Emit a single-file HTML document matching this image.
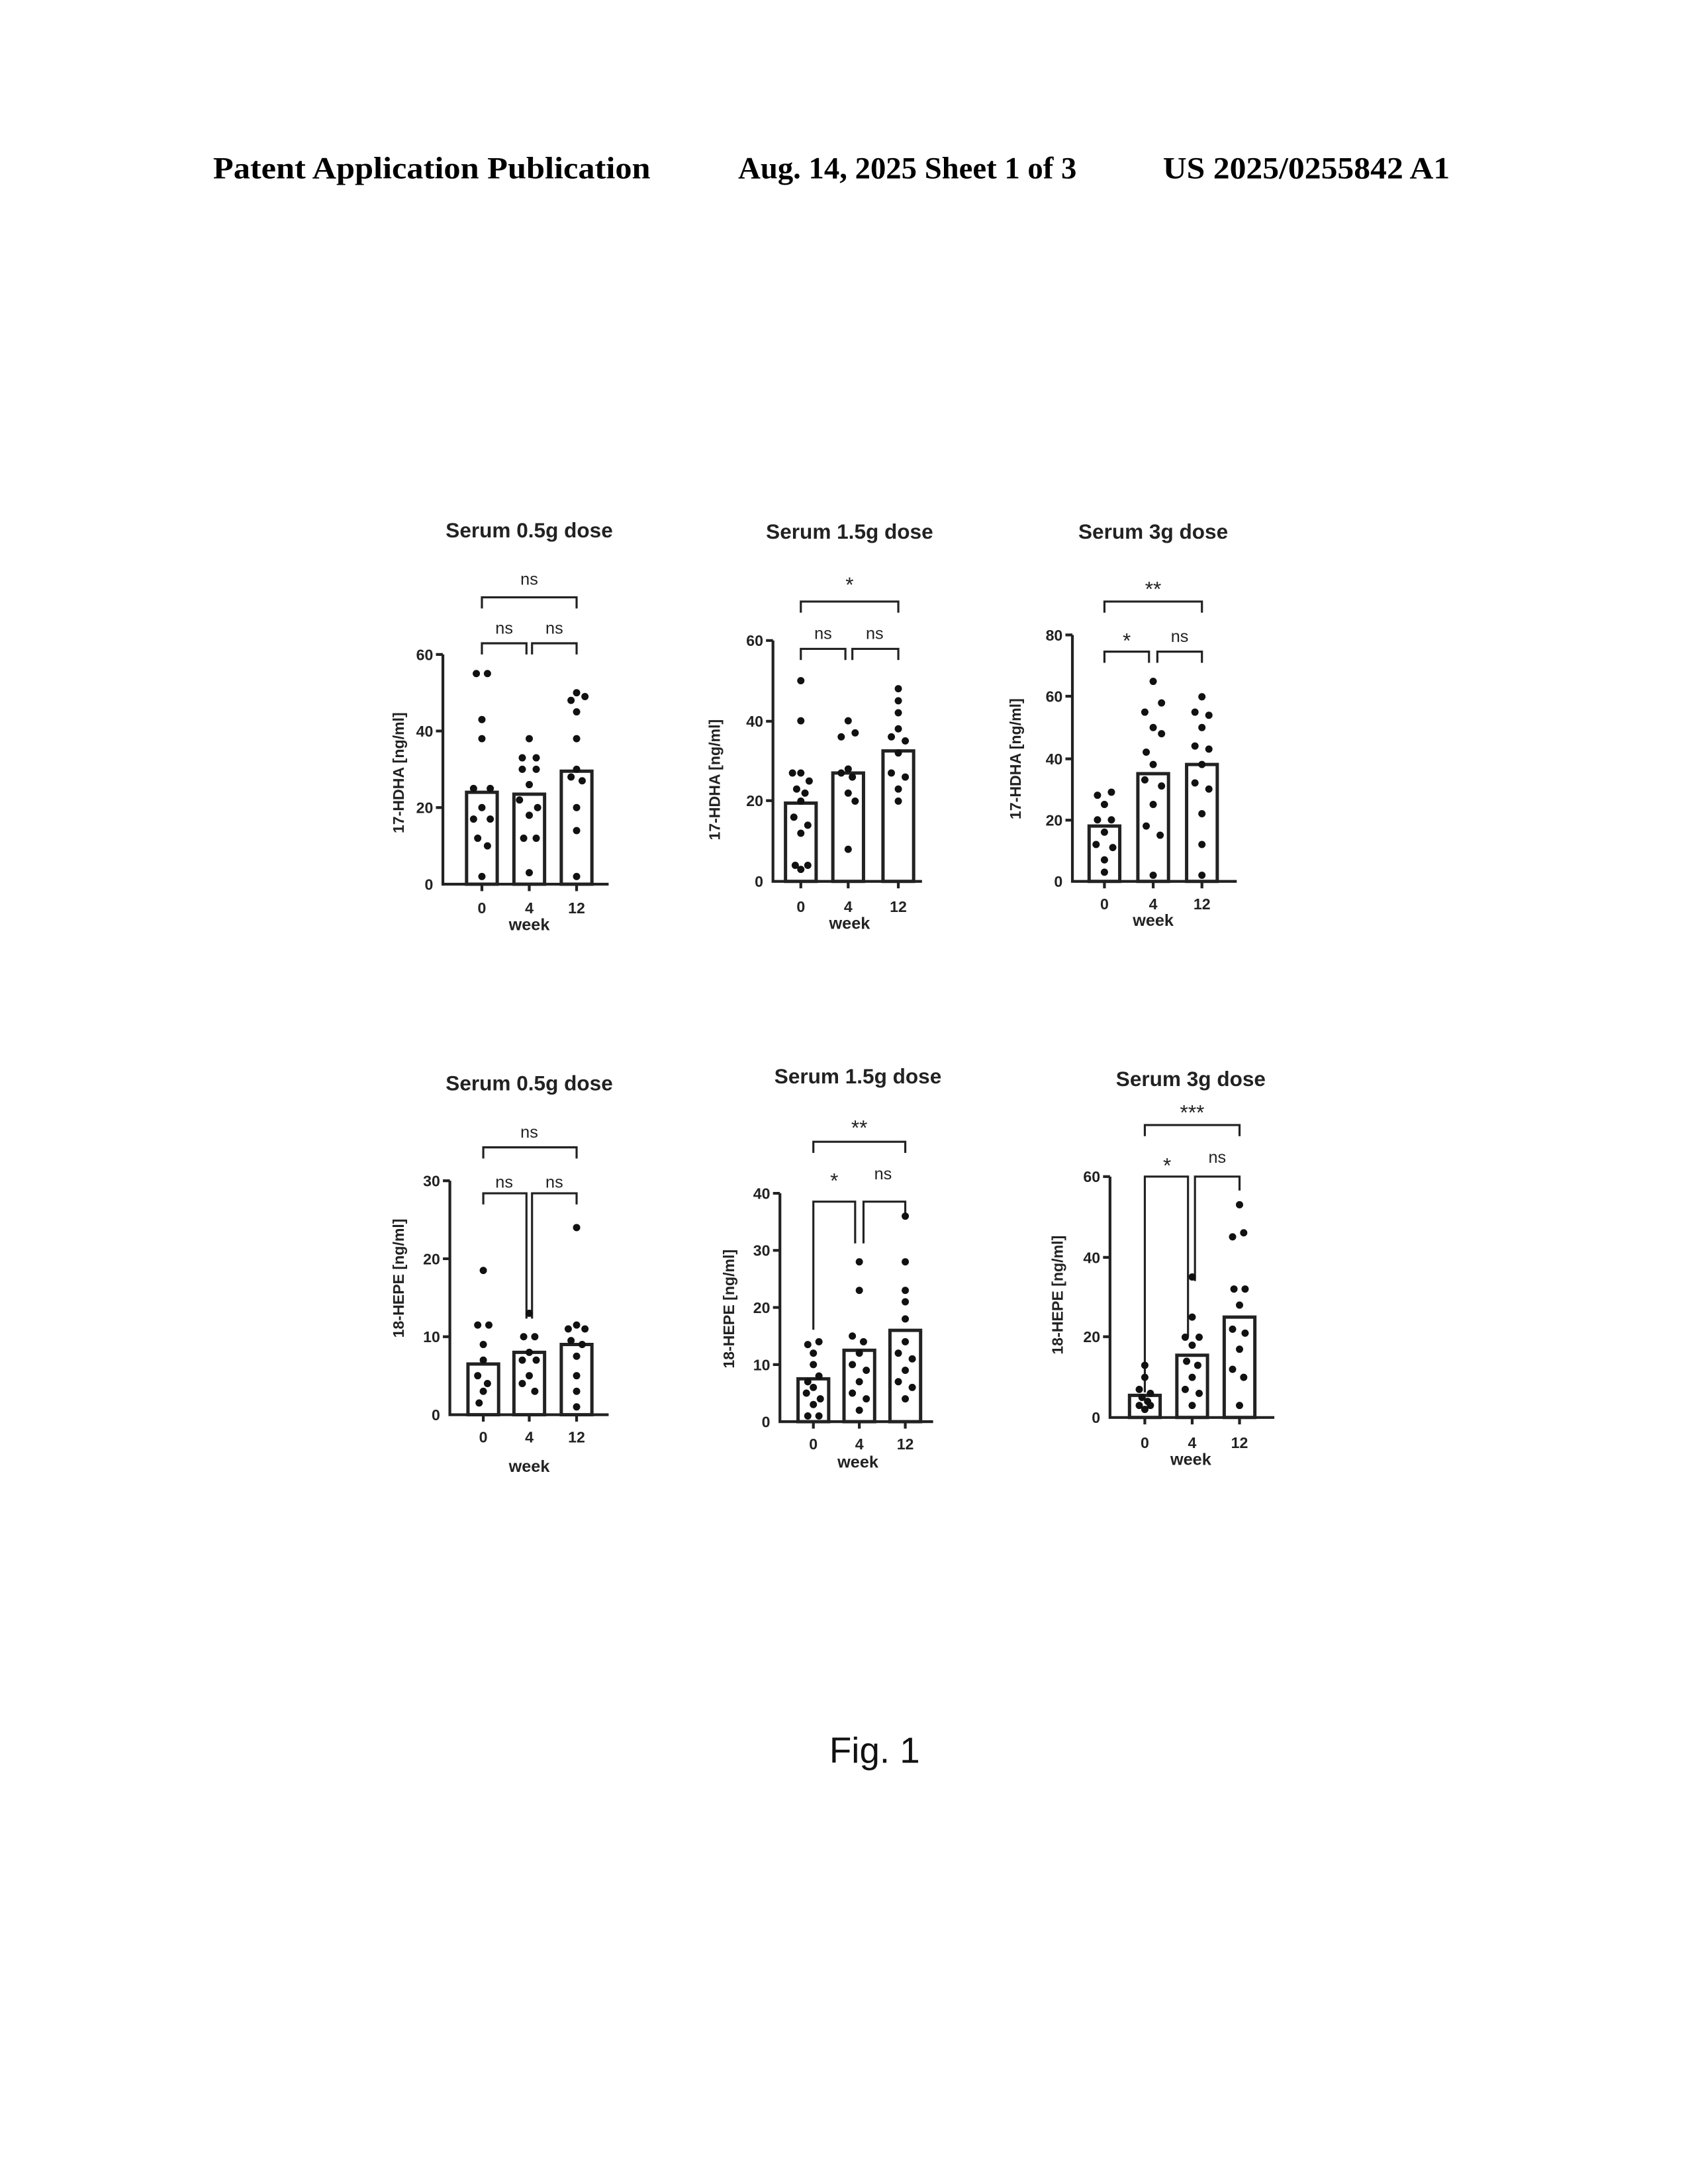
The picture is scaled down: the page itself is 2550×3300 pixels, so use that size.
<!DOCTYPE html>
<html><head><meta charset="utf-8"><style>
html,body{margin:0;padding:0;background:#fff}
svg{display:block}
text{font-family:"Liberation Sans",sans-serif;fill:#222}
.h{font-family:"Liberation Serif",serif;font-weight:bold;font-size:22px;fill:#000}
.t{font-weight:bold;font-size:15px;text-anchor:middle}
.n{font-size:11px;font-weight:bold;text-anchor:middle}
.y{font-size:11px;font-weight:bold;text-anchor:end}
.s{font-size:12px;text-anchor:middle}
.ax{stroke:#222;stroke-width:2;fill:none}
.dt{stroke:#111;stroke-width:11;stroke-linecap:round;fill:none;vector-effect:non-scaling-stroke}
.br{fill:none;stroke:#222;stroke-width:5;vector-effect:non-scaling-stroke}
</style></head><body>
<svg width="2550" height="3300" viewBox="0 0 1212 1568.5" xmlns="http://www.w3.org/2000/svg">
<text class="h" x="153" y="128" textLength="314" lengthAdjust="spacingAndGlyphs">Patent Application Publication</text>
<text class="h" x="530" y="128" textLength="243" lengthAdjust="spacingAndGlyphs">Aug. 14, 2025  Sheet 1 of 3</text>
<text class="h" x="835" y="128" textLength="206" lengthAdjust="spacingAndGlyphs">US 2025/0255842 A1</text>

<!-- Chart 1 -->
<text class="t" x="380" y="386">Serum 0.5g dose</text>
<path class="ax" d="M318 470V635H437M313 470H318M313 525H318M313 580H318M346 635v5M380 635v5M414 635v5"/>
<text class="y" x="311" y="474">60</text><text class="y" x="311" y="529">40</text><text class="y" x="311" y="584">20</text><text class="y" x="311" y="639">0</text>
<text class="n" x="346" y="656">0</text><text class="n" x="380" y="656">4</text><text class="n" x="414" y="656">12</text>
<text class="n" x="380" y="668" style="font-size:12px">week</text>
<text class="n" x="290" y="555" transform="rotate(-90 290 555)">17-HDHA [ng/ml]</text>
<path class="ax" d="M346 470v-8h32v8M382 470v-8h32v8M346 437v-8h68v8" style="stroke-width:1.5"/>
<text class="s" x="362" y="455">ns</text><text class="s" x="398" y="455">ns</text><text class="s" x="380" y="420">ns</text>
<g transform="translate(0,635) scale(1,-2.75)">
<rect class="br" x="335" y="0" width="22" height="24"/><rect class="br" x="369" y="0" width="22" height="23.5"/><rect class="br" x="403" y="0" width="22" height="29.5"/>
<path class="dt" d="M342 55h0M350 55h0M346 43h0M346 38h0M340 25h0M352 25h0M346 20h0M340 17h0M352 17h0M343 12h0M350 10h0M346 2h0M380 38h0M375 33h0M385 33h0M375 30h0M385 30h0M380 26h0M373 22h0M386 20h0M380 18h0M376 12h0M385 12h0M380 3h0M414 50h0M410 48h0M420 49h0M414 45h0M414 38h0M414 30h0M410 28h0M418 27h0M414 20h0M414 14h0M414 2h0"/>
</g>

<!-- Chart 2 -->
<text class="t" x="610" y="387">Serum 1.5g dose</text>
<path class="ax" d="M555 460V633H662M550 460H555M550 518H555M550 575H555M575 633v5M609 633v5M645 633v5"/>
<text class="y" x="548" y="464">60</text><text class="y" x="548" y="522">40</text><text class="y" x="548" y="579">20</text><text class="y" x="548" y="637">0</text>
<text class="n" x="575" y="655">0</text><text class="n" x="609" y="655">4</text><text class="n" x="645" y="655">12</text>
<text class="n" x="610" y="667" style="font-size:12px">week</text>
<text class="n" x="517" y="560" transform="rotate(-90 517 560)">17-HDHA [ng/ml]</text>
<path class="ax" d="M575 474v-8h32v8M612 474v-8h33v8M575 440v-8h70v8" style="stroke-width:1.5"/>
<text class="s" x="591" y="459">ns</text><text class="s" x="628" y="459">ns</text><text class="s" x="610" y="425" style="font-size:15px">*</text>
<g transform="translate(0,633) scale(1,-2.883)">
<rect class="br" x="564" y="0" width="22" height="19.5"/><rect class="br" x="598" y="0" width="22" height="27"/><rect class="br" x="634" y="0" width="22" height="32.5"/>
<path class="dt" d="M575 50h0M575 40h0M569 27h0M575 27h0M581 25h0M572 23h0M578 22h0M575 20h0M570 16h0M580 14h0M575 12h0M571 4h0M580 4h0M575 3h0M609 40h0M604 36h0M614 37h0M609 28h0M604 27h0M612 26h0M609 22h0M614 20h0M609 8h0M645 48h0M645 45h0M645 42h0M645 38h0M640 36h0M650 35h0M645 32h0M640 27h0M650 26h0M645 23h0M645 20h0"/>
</g>

<!-- Chart 3 -->
<text class="t" x="828" y="387">Serum 3g dose</text>
<path class="ax" d="M770 456V633H888M765 456H770M765 500H770M765 545H770M765 589H770M793 633v5M828 633v5M863 633v5"/>
<text class="y" x="763" y="460">80</text><text class="y" x="763" y="504">60</text><text class="y" x="763" y="549">40</text><text class="y" x="763" y="593">20</text><text class="y" x="763" y="637">0</text>
<text class="n" x="793" y="653">0</text><text class="n" x="828" y="653">4</text><text class="n" x="863" y="653">12</text>
<text class="n" x="828" y="665" style="font-size:12px">week</text>
<text class="n" x="733" y="545" transform="rotate(-90 733 545)">17-HDHA [ng/ml]</text>
<path class="ax" d="M793 476v-8h32v8M831 476v-8h32v8M793 440v-8h70v8" style="stroke-width:1.5"/>
<text class="s" x="809" y="465" style="font-size:15px">*</text><text class="s" x="847" y="461">ns</text><text class="s" x="828" y="428" style="font-size:15px">**</text>
<g transform="translate(0,633) scale(1,-2.21)">
<rect class="br" x="782" y="0" width="22" height="18"/><rect class="br" x="817" y="0" width="22" height="35"/><rect class="br" x="852" y="0" width="22" height="38"/>
<path class="dt" d="M788 28h0M798 29h0M793 25h0M788 20h0M798 20h0M793 16h0M787 12h0M799 11h0M793 7h0M793 3h0M828 65h0M822 55h0M834 58h0M828 50h0M834 48h0M823 42h0M828 38h0M822 33h0M834 31h0M828 25h0M823 18h0M833 15h0M828 2h0M863 60h0M858 55h0M868 54h0M863 50h0M858 44h0M868 43h0M863 38h0M858 32h0M868 30h0M863 22h0M863 12h0M863 2h0"/>
</g>

<!-- Chart 4 -->
<text class="t" x="380" y="783">Serum 0.5g dose</text>
<path class="ax" d="M323 848V1016H437M318 848H323M318 904H323M318 960H323M347 1016v5M380 1016v5M414 1016v5"/>
<text class="y" x="316" y="852">30</text><text class="y" x="316" y="908">20</text><text class="y" x="316" y="964">10</text><text class="y" x="316" y="1020">0</text>
<text class="n" x="347" y="1036">0</text><text class="n" x="380" y="1036">4</text><text class="n" x="414" y="1036">12</text>
<text class="n" x="380" y="1057" style="font-size:12px">week</text>
<text class="n" x="290" y="918" transform="rotate(-90 290 918)">18-HEPE [ng/ml]</text>
<path class="ax" d="M347 865v-8h31v90M382 947v-90h32v8M347 832v-8h67v8" style="stroke-width:1.5"/>
<text class="s" x="362" y="853">ns</text><text class="s" x="398" y="853">ns</text><text class="s" x="380" y="817">ns</text>
<g transform="translate(0,1016) scale(1,-5.6)">
<rect class="br" x="336" y="0" width="22" height="6.5"/><rect class="br" x="369" y="0" width="22" height="8"/><rect class="br" x="403" y="0" width="22" height="9"/>
<path class="dt" d="M347 18.5h0M343 11.5h0M351 11.5h0M347 9h0M347 7h0M343 5h0M350 4h0M347 3h0M344 1.5h0M380 13h0M376 10h0M384 10h0M380 8h0M375 7h0M385 7h0M380 5h0M375 4h0M384 3h0M414 24h0M408 11h0M414 11.5h0M420 11h0M410 9.5h0M418 9h0M414 7.5h0M414 5h0M414 3h0M414 1h0"/>
</g>

<!-- Chart 5 -->
<text class="t" x="616" y="778">Serum 1.5g dose</text>
<path class="ax" d="M560 857V1021H670M555 857H560M555 898H560M555 939H560M555 980H560M584 1021v5M617 1021v5M650 1021v5"/>
<text class="y" x="553" y="861">40</text><text class="y" x="553" y="902">30</text><text class="y" x="553" y="943">20</text><text class="y" x="553" y="984">10</text><text class="y" x="553" y="1025">0</text>
<text class="n" x="584" y="1041">0</text><text class="n" x="617" y="1041">4</text><text class="n" x="650" y="1041">12</text>
<text class="n" x="616" y="1054" style="font-size:12px">week</text>
<text class="n" x="527" y="940" transform="rotate(-90 527 940)">18-HEPE [ng/ml]</text>
<path class="ax" d="M584 955v-92h30v30M620 893v-30h30v10M584 828v-8h66v8" style="stroke-width:1.5"/>
<text class="s" x="599" y="853" style="font-size:15px">*</text><text class="s" x="634" y="847">ns</text><text class="s" x="617" y="815" style="font-size:15px">**</text>
<g transform="translate(0,1021) scale(1,-4.1)">
<rect class="br" x="573" y="0" width="22" height="7.5"/><rect class="br" x="606" y="0" width="22" height="12.5"/><rect class="br" x="639" y="0" width="22" height="16"/>
<path class="dt" d="M580 13.5h0M588 14h0M584 12h0M584 10h0M580 7h0M588 8h0M584 6h0M579 5h0M589 4h0M584 3h0M580 1h0M588 1h0M617 28h0M617 23h0M612 15h0M620 14h0M617 12h0M612 10h0M622 9h0M617 7h0M612 5h0M622 4h0M617 2h0M650 36h0M650 28h0M650 23h0M650 21h0M650 18h0M650 14h0M645 12h0M655 11h0M650 9h0M645 7h0M655 6h0M650 4h0"/>
</g>

<!-- Chart 6 -->
<text class="t" x="855" y="780">Serum 3g dose</text>
<path class="ax" d="M797 845V1018H915M792 845H797M792 903H797M792 960H797M822 1018v5M856 1018v5M890 1018v5"/>
<text class="y" x="790" y="849">60</text><text class="y" x="790" y="907">40</text><text class="y" x="790" y="964">20</text><text class="y" x="790" y="1022">0</text>
<text class="n" x="822" y="1040">0</text><text class="n" x="856" y="1040">4</text><text class="n" x="890" y="1040">12</text>
<text class="n" x="855" y="1052" style="font-size:12px">week</text>
<text class="n" x="763" y="930" transform="rotate(-90 763 930)">18-HEPE [ng/ml]</text>
<path class="ax" d="M822 1000v-155h31v115M858 920v-75h32v10M822 816v-8h68v8" style="stroke-width:1.5"/>
<text class="s" x="838" y="842" style="font-size:15px">*</text><text class="s" x="874" y="835">ns</text><text class="s" x="856" y="804" style="font-size:15px">***</text>
<g transform="translate(0,1018) scale(1,-2.883)">
<rect class="br" x="811" y="0" width="22" height="5.5"/><rect class="br" x="845" y="0" width="22" height="15.5"/><rect class="br" x="879" y="0" width="22" height="25"/>
<path class="dt" d="M822 13h0M822 10h0M818 7h0M826 6h0M820 5h0M824 4h0M818 3h0M826 3h0M822 2h0M856 35h0M856 25h0M851 20h0M861 20h0M856 18h0M852 14h0M860 13h0M856 10h0M851 7h0M861 6h0M856 3h0M890 53h0M885 45h0M893 46h0M886 32h0M894 32h0M890 28h0M885 22h0M894 21h0M890 17h0M885 12h0M893 10h0M890 3h0"/>
</g>

<text x="628" y="1266" style="font-size:26px;text-anchor:middle;fill:#111">Fig. 1</text>
</svg>
</body></html>
